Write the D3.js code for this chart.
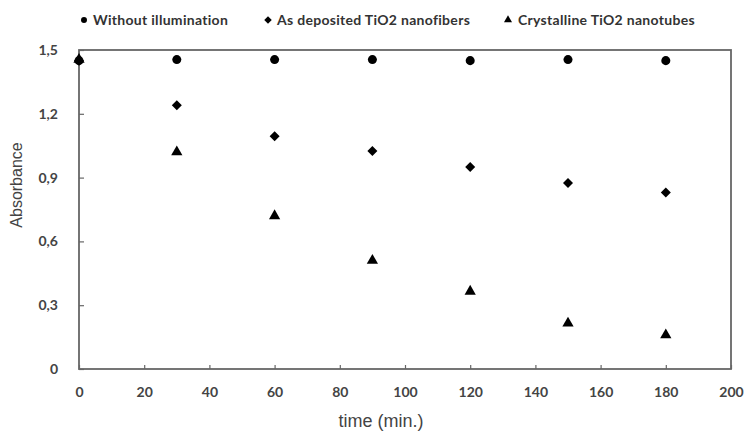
<!DOCTYPE html>
<meta charset="utf-8">
<style>
  body { margin: 0; background: #fff; }
  .tick text { font-family: Lato, "Open Sans", sans-serif; font-weight: 700; font-size: 14px; fill: #444; }
  .legend text { font-family: Lato, "Open Sans", sans-serif; font-weight: 700; font-size: 14px; letter-spacing: 0.3px; fill: #333; }
  .title { font-family: "Liberation Sans", Arial, sans-serif; fill: #444; }
</style>
<script src="https://d3js.org/d3.v7.min.js"></script>
<body>
<div id="chart"></div>
<script>
  // 数据
  let times = [0, 30, 60, 90, 120, 150, 180];
  let noLight = [1.45, 1.455, 1.455, 1.455, 1.45, 1.455, 1.45];
  let fibers = [1.45, 1.24, 1.095, 1.025, 0.95, 0.875, 0.83];
  let tubes = [1.455, 1.02, 0.72, 0.51, 0.365, 0.215, 0.16];
  let seriesNames = ["Without illumination", "As deposited TiO2 nanofibers", "Crystalline TiO2 nanotubes"];
  let xTicks = [0, 20, 40, 60, 80, 100, 120, 140, 160, 180, 200];
  let yTicks = [0, 0.3, 0.6, 0.9, 1.2, 1.5];
  let yLabels = ["0", "0,3", "0,6", "0,9", "1,2", "1,5"];

  let width = 750, height = 433;
  let margin = {top: 50, right: 19, bottom: 64, left: 79};

  let svg = d3.select("#chart").append("svg")
    .attr("width", width)
    .attr("height", height);

  let x = d3.scaleLinear().domain([0, 200]).range([margin.left, width - margin.right]);
  let y = d3.scaleLinear().domain([0, 1.5]).range([height - margin.bottom, margin.top]);

  // 外框
  svg.append("rect")
    .attr("x", x(0)).attr("y", y(1.5))
    .attr("width", x(200) - x(0)).attr("height", y(0) - y(1.5))
    .attr("fill", "none").attr("stroke", "#666").attr("stroke-width", 1.8);

  // x轴
  let gx = svg.append("g")
    .attr("transform", `translate(0,${y(0)})`)
    .call(d3.axisBottom(x).tickValues(xTicks).tickSizeInner(-4).tickSizeOuter(0).tickPadding(18).tickFormat(d3.format("d")));
  gx.select(".domain").remove();
  gx.selectAll(".tick line").attr("stroke", "#666").attr("stroke-width", 1.2);

  // y轴
  let gy = svg.append("g")
    .attr("transform", `translate(${x(0)},0)`)
    .call(d3.axisLeft(y).tickValues(yTicks).tickSizeInner(-5).tickSizeOuter(0).tickPadding(21).tickFormat((d, i) => yLabels[i]));
  gy.select(".domain").remove();
  gy.selectAll(".tick line").attr("stroke", "#666").attr("stroke-width", 1.2);

  // 轴标题
  svg.append("text").attr("class", "title")
    .attr("x", 381).attr("y", 427)
    .attr("text-anchor", "middle").attr("font-size", 18)
    .text("time (min.)");
  svg.append("text").attr("class", "title")
    .attr("transform", "translate(22,185) rotate(-90)")
    .attr("text-anchor", "middle").attr("font-size", 16)
    .text("Absorbance");

  // 符号（菱形用旋转的正方形）
  let shapes = [d3.symbolCircle, d3.symbolSquare, d3.symbolTriangle];
  let rotations = [0, 45, 0];
  let sizes = [64, 50, 55];
  let series = [noLight, fibers, tubes];

  series.forEach(function (vals, k) {
    svg.append("g").selectAll("path")
      .data(times.map((t, i) => [t, vals[i]]))
      .join("path")
      .attr("transform", d => `translate(${x(d[0])},${y(d[1])}) rotate(${rotations[k]})`)
      .attr("d", d3.symbol().type(shapes[k]).size(sizes[k]))
      .attr("fill", "#000");
  });

  // 图例
  let legendX = [84, 268, 508];
  let legendTextX = [93, 277, 518];
  let legend = svg.append("g").attr("class", "legend");
  seriesNames.forEach(function (name, k) {
    legend.append("path")
      .attr("transform", `translate(${legendX[k]},20) rotate(${rotations[k]})`)
      .attr("d", d3.symbol().type(shapes[k]).size(28))
      .attr("fill", "#000");
    legend.append("text")
      .attr("x", legendTextX[k]).attr("y", 25)
      .text(name);
  });
</script>
</body>
